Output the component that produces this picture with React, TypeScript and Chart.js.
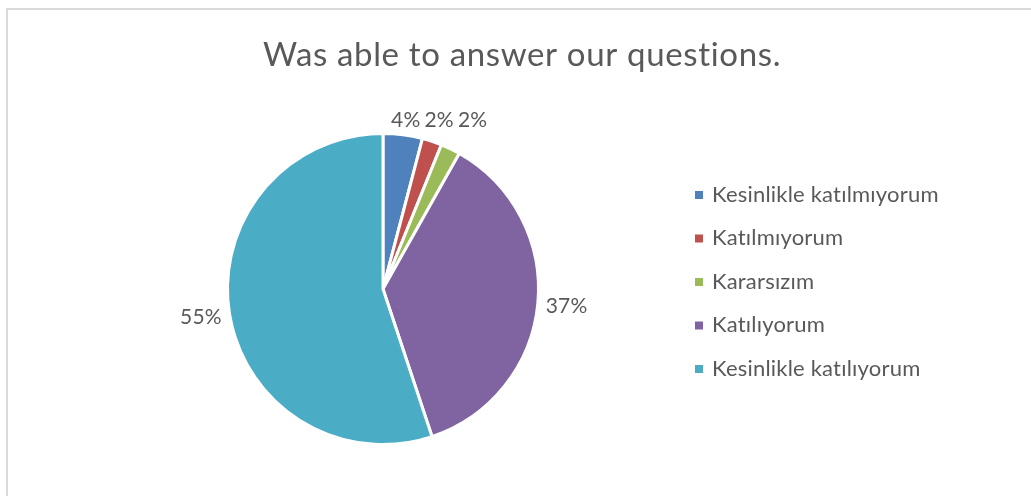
import React, { useEffect, useRef } from 'react';
import { Chart, registerables, layouts } from 'chart.js';

Chart.register(...registerables);

const TITLE = 'Was able to answer our questions.';
const CATEGORIES = [
  'Kesinlikle katılmıyorum',
  'Katılmıyorum',
  'Kararsızım',
  'Katılıyorum',
  'Kesinlikle katılıyorum',
];
const COUNTS = [2, 1, 1, 18, 27];
const COLORS = ['#4F81BD', '#C0504D', '#9BBB59', '#8064A2', '#4BACC6'];

const FONT = 'Lato';
const TEXT_COLOR = '#595959';
const TITLE_SIZE = 33;
const TITLE_SPACING = '0.65px';
const LABEL_SIZE = 21;
const LABEL_SPACING = '0.2px';
const LEGEND_SIZE = 22;
const LEGEND_SPACING = '0.2px';
const LABEL_OFFSET = 8;
const LABEL_GAP = 4;
const SIDE_SPACE = 278;
const LEGEND_X = 695;
const LEGEND_BASE0 = 201.5;
const LEGEND_STEP = 43.5;
const LEGEND_BOX = 8;

const sidePlugin = {
  id: 'sideSpace',
  start(chart: any) {
    const box: any = {
      position: 'right',
      weight: 1000,
      fullSize: false,
      options: {},
      left: 0, top: 0, right: 0, bottom: 0, width: 0, height: 0,
      isHorizontal() { return false; },
      update(_mw: number, mh: number) { this.width = SIDE_SPACE; this.height = mh; },
      draw() {},
    };
    chart.$sideBox = box;
    layouts.addBox(chart, box);
  },
  stop(chart: any) {
    if (chart.$sideBox) layouts.removeBox(chart, chart.$sideBox);
  },
  beforeDraw(chart: any) {
    (chart.ctx as any).letterSpacing = TITLE_SPACING;
  },
  afterDraw(chart: any) {
    const ctx = chart.ctx;
    ctx.save();
    ctx.letterSpacing = LEGEND_SPACING;
    ctx.font = `${LEGEND_SIZE}px ${FONT}`;
    ctx.textAlign = 'left';
    ctx.textBaseline = 'alphabetic';
    const labels = chart.data.labels as string[];
    const colors = chart.data.datasets[0].backgroundColor as string[];
    labels.forEach((lab, i) => {
      const base = LEGEND_BASE0 + i * LEGEND_STEP;
      ctx.fillStyle = colors[i];
      ctx.fillRect(LEGEND_X, base - 10.5, LEGEND_BOX, LEGEND_BOX);
      ctx.fillStyle = TEXT_COLOR;
      ctx.fillText(lab, LEGEND_X + 17, base);
    });
    ctx.restore();
  },
};

const labelPlugin = {
  id: 'outLabels',
  afterDatasetsDraw(chart: any) {
    const ctx = chart.ctx;
    const meta = chart.getDatasetMeta(0);
    const data = chart.data.datasets[0].data as number[];
    const total = data.reduce((a, b) => a + b, 0);
    ctx.save();
    ctx.letterSpacing = LABEL_SPACING;
    ctx.font = `${LABEL_SIZE}px ${FONT}`;
    ctx.fillStyle = TEXT_COLOR;
    ctx.textAlign = 'left';
    ctx.textBaseline = 'alphabetic';
    const capH = LABEL_SIZE * 0.72;
    const boxes: any[] = [];
    meta.data.forEach((arc: any, i: number) => {
      const { x, y, startAngle, endAngle, outerRadius } = arc.getProps(
        ['x', 'y', 'startAngle', 'endAngle', 'outerRadius'], true);
      const mid = (startAngle + endAngle) / 2;
      const dx = Math.cos(mid);
      const dy = Math.sin(mid);
      const r = outerRadius + LABEL_OFFSET;
      const ax = x + dx * r;
      const ay = y + dy * r;
      const text = Math.round((data[i] / total) * 100) + '%';
      const w = ctx.measureText(text).width;
      const cx = ax + (dx * w) / 2;
      const cy = ay + (dy * capH) / 2;
      const box = { l: cx - w / 2, r: cx + w / 2, t: cy - capH / 2, b: cy + capH / 2, text, w };
      const prev = boxes[boxes.length - 1];
      if (prev && box.l < prev.r + 8 && box.r > prev.l - 8 && box.t < prev.b + 4 && box.b > prev.t - 4) {
        box.t = prev.t;
        box.b = prev.b;
        box.l = prev.r + LABEL_GAP;
        box.r = box.l + w;
      }
      boxes.push(box);
    });
    boxes.forEach((b) => ctx.fillText(b.text, b.l, b.b));
    ctx.restore();
  },
};

export default function App() {
  const ref = useRef<HTMLCanvasElement>(null);
  useEffect(() => {
    let chart: Chart | null = null;
    let cancelled = false;
    document.body.style.overflow = 'hidden';
    const make = () => {
      if (cancelled || !ref.current) return;
      chart = new Chart(ref.current, {
        type: 'pie',
        data: {
          labels: CATEGORIES,
          datasets: [
            {
              data: COUNTS,
              backgroundColor: COLORS,
              borderColor: '#FFFFFF',
              borderWidth: 3,
            },
          ],
        },
        options: {
          responsive: false,
          animation: false,
          events: [],
          layout: { padding: { left: 13, right: 0, top: 0, bottom: 50 } },
          plugins: {
            legend: { display: false },
            tooltip: { enabled: false },
            title: {
              display: true,
              text: TITLE,
              color: TEXT_COLOR,
              font: { family: FONT, size: TITLE_SIZE, weight: 'normal' as any, lineHeight: 1.2 },
              padding: { top: 35.6, bottom: 56.8 },
            },
          },
        },
        plugins: [sidePlugin as any, labelPlugin as any],
      });
    };
    Promise.all([
      document.fonts.load(`${TITLE_SIZE}px ${FONT}`),
      document.fonts.load(`${LABEL_SIZE}px ${FONT}`),
      document.fonts.load(`${LEGEND_SIZE}px ${FONT}`),
    ]).then(make, make);
    return () => {
      cancelled = true;
      if (chart) chart.destroy();
    };
  }, []);

  return (
    <div style={{ position: 'fixed', left: 0, top: 0, width: 1031, height: 496, overflow: 'hidden', background: '#fff' }}>
      <div
        style={{
          position: 'absolute', left: 6, top: 8, width: 1100, height: 600,
          border: '2px solid #D9D9D9', boxSizing: 'border-box',
        }}
      />
      <canvas ref={ref} width={1031} height={496} style={{ position: 'absolute', left: 0, top: 0 }} />
    </div>
  );
}
